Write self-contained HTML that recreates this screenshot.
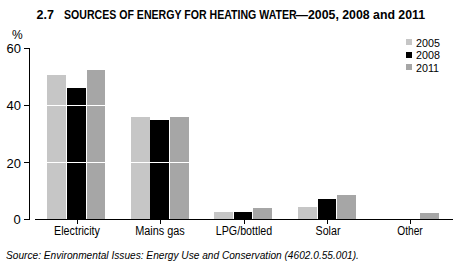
<!DOCTYPE html>
<html><head><meta charset="utf-8">
<style>
html,body{margin:0;padding:0;background:#fff;}
body{width:459px;height:263px;overflow:hidden;position:relative;font-family:"Liberation Sans",sans-serif;color:#000;}
.t{position:absolute;white-space:nowrap;line-height:1;}
svg{position:absolute;left:0;top:0;}
</style></head><body>
<svg width="459" height="263" shape-rendering="crispEdges">
<g fill="#c6c6c6">
<rect x="47" y="75" width="19" height="144"/>
<rect x="131" y="117" width="19" height="102"/>
<rect x="214" y="212" width="19" height="7"/>
<rect x="298" y="207" width="19" height="12"/>
</g>
<g fill="#000">
<rect x="67" y="88" width="19" height="131"/>
<rect x="150" y="120" width="19" height="99"/>
<rect x="234" y="212" width="18" height="7"/>
<rect x="318" y="199" width="18" height="20"/>
</g>
<g fill="#a6a6a6">
<rect x="87" y="70" width="18" height="149"/>
<rect x="170" y="117" width="19" height="102"/>
<rect x="253" y="208" width="19" height="11"/>
<rect x="337" y="195" width="19" height="24"/>
<rect x="420" y="213" width="19" height="6"/>
</g>
<g fill="#fff">
<rect x="30" y="105" width="423" height="1"/>
<rect x="30" y="162" width="423" height="1"/>
</g>
<g fill="#000">
<rect x="29" y="48" width="1" height="172"/>
<rect x="24" y="48" width="5" height="1"/>
<rect x="24" y="105" width="5" height="1"/>
<rect x="24" y="162" width="5" height="1"/>
<rect x="24" y="219" width="5" height="1"/>
<rect x="35" y="219" width="418" height="1"/>
<rect x="77" y="220" width="1" height="4"/>
<rect x="160" y="220" width="1" height="4"/>
<rect x="244" y="220" width="1" height="4"/>
<rect x="327" y="220" width="1" height="4"/>
<rect x="410" y="220" width="1" height="4"/>
</g>
<rect x="406" y="39" width="6" height="6" fill="#c6c6c6"/>
<rect x="406" y="52" width="6" height="6" fill="#000"/>
<rect x="406" y="64" width="6" height="6" fill="#a6a6a6"/>
</svg>
<div class="t" id="t1" style="left:36.6px;top:9px;font-size:12.5px;font-weight:bold;">2.7</div>
<div class="t" id="t2" style="left:63.6px;top:9px;font-size:12.5px;font-weight:bold;transform-origin:0 0;transform:scaleX(0.846);">SOURCES OF ENERGY FOR HEATING WATER</div>
<div class="t" id="t3" style="left:295.4px;top:9px;font-size:12.5px;font-weight:bold;">—</div>
<div class="t" id="t4" style="left:308px;top:9px;font-size:12.5px;font-weight:bold;transform-origin:0 0;transform:scaleX(0.985);">2005, 2008 and 2011</div>
<div class="t" id="pct" style="left:12px;top:29px;font-size:12px;">%</div>
<div class="t" id="y60" style="left:6.5px;top:42px;font-size:13px;">60</div>
<div class="t" id="y40" style="left:6.5px;top:99px;font-size:13px;">40</div>
<div class="t" id="y20" style="left:6.5px;top:157px;font-size:13px;">20</div>
<div class="t" id="y0" style="left:13.5px;top:213px;font-size:13px;">0</div>
<div class="t" id="l1" style="left:416.3px;top:38px;font-size:11px;transform-origin:0 0;transform:scaleX(0.975);">2005</div>
<div class="t" id="l2" style="left:416.3px;top:50px;font-size:11px;transform-origin:0 0;transform:scaleX(0.975);">2008</div>
<div class="t" id="l3" style="left:416.3px;top:63px;font-size:11px;transform-origin:0 0;transform:scaleX(0.975);">2011</div>
<div class="t" id="x1" style="left:27.0px;top:225px;width:100px;text-align:center;font-size:12px;transform:scaleX(0.892);">Electricity</div>
<div class="t" id="x2" style="left:109.8px;top:225px;width:100px;text-align:center;font-size:12px;transform:scaleX(0.908);">Mains gas</div>
<div class="t" id="x3" style="left:193.5px;top:225px;width:100px;text-align:center;font-size:12px;transform:scaleX(0.89);">LPG/bottled</div>
<div class="t" id="x4" style="left:277.8px;top:225px;width:100px;text-align:center;font-size:12px;transform:scaleX(0.889);">Solar</div>
<div class="t" id="x5" style="left:360.3px;top:225px;width:100px;text-align:center;font-size:12px;transform:scaleX(0.85);">Other</div>
<div class="t" id="src" style="left:6px;top:250px;font-size:11px;font-style:italic;transform-origin:0 0;transform:scaleX(0.922);">Source: Environmental Issues: Energy Use and Conservation (4602.0.55.001).</div>
</body></html>
